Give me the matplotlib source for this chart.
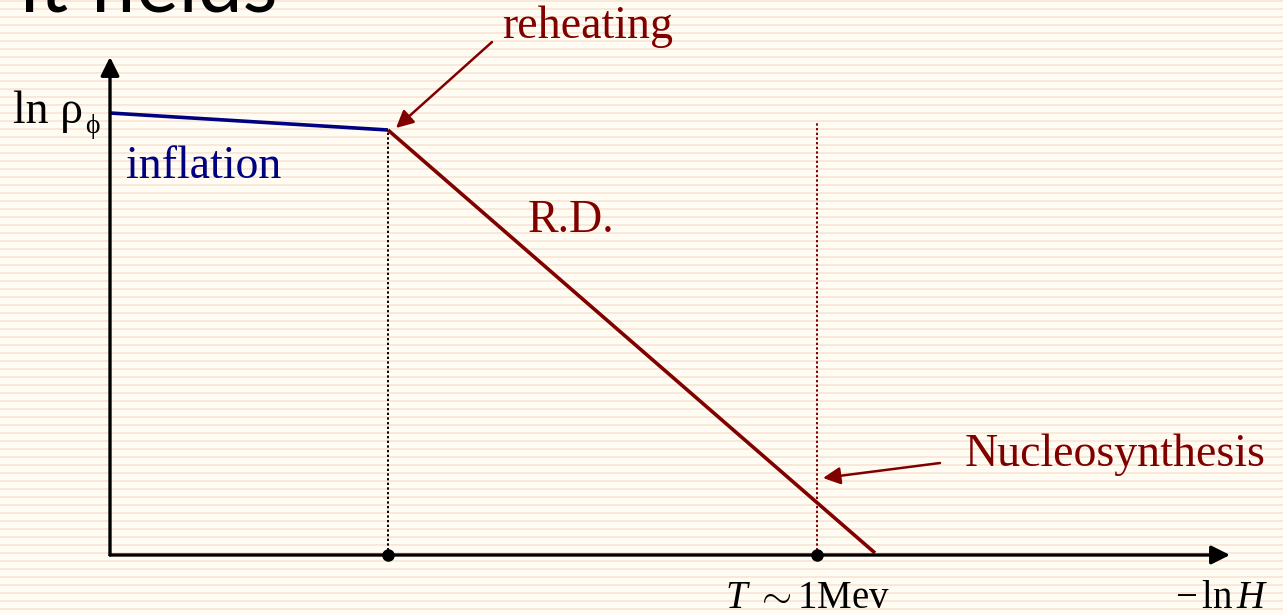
import numpy as np
import matplotlib.pyplot as plt
from matplotlib.colors import ListedColormap

plt.rcParams['mathtext.fontset'] = 'custom'
plt.rcParams['mathtext.rm'] = 'Liberation Serif'
plt.rcParams['mathtext.it'] = 'Liberation Serif:italic'

# schematic energy density vs -ln H
infl_x = [0.0, 2.78]
infl_y = [4.42, 4.25]
rd_x = [2.78, 7.65]
rd_y = [4.25, 0.02]
reheat_x = 2.78
nucleo_x = 7.07
nucleo_top = 4.33
x_axis_end = 11.2
y_axis_end = 4.98

MAROON = '#800000'
NAVY = '#000080'
serif = ['Liberation Serif', 'DejaVu Serif']
FS = 33

fig = plt.figure(figsize=(12.83, 6.15), dpi=100)

# lined slide background
bg = fig.add_axes([0, 0, 1, 1])
rows = np.zeros((615, 1))
rows[np.arange(615) % 8 < 2] = 1
bg.imshow(rows, aspect='auto', cmap=ListedColormap(['#fffdf3', '#f9e8da']),
          interpolation='nearest')
bg.axis('off')

ax = fig.add_axes([0, 0, 1, 1])
ax.set_xlim(-1.10, 11.73)
ax.set_ylim(-0.60, 5.55)
ax.axis('off')
ax.patch.set_alpha(0)

# axes with arrowheads
ax.annotate('', xy=(x_axis_end, 0), xytext=(0, 0),
            arrowprops=dict(arrowstyle='-|>', color='black', lw=2.4,
                            mutation_scale=28, shrinkA=0, shrinkB=0))
ax.annotate('', xy=(0, y_axis_end), xytext=(0, 0),
            arrowprops=dict(arrowstyle='-|>', color='black', lw=2.4,
                            mutation_scale=28, shrinkA=0, shrinkB=0))

# dotted markers for reheating and nucleosynthesis
ax.plot([reheat_x, reheat_x], [0, infl_y[1]], color='black', lw=1.4, ls=(0, (1.2, 1.2)))
ax.plot([nucleo_x, nucleo_x], [0, nucleo_top], color=MAROON, lw=1.4, ls=(0, (1.2, 1.2)))
ax.plot([reheat_x, nucleo_x], [0, 0], 'o', color='black', ms=8, zorder=5)

ax.plot(infl_x, infl_y, color=NAVY, lw=2.6, solid_capstyle='butt')
ax.plot(rd_x, rd_y, color=MAROON, lw=2.6, solid_capstyle='butt')

# labels
ax.text(-0.97, 4.32, 'ln ρ', fontsize=FS, family=serif, color='black')
ax.text(-0.25, 4.22, 'ϕ', fontsize=20, family=serif, color='black')
ax.text(0.16, 3.77, 'inflation', fontsize=FS, family=serif, color=NAVY)
ax.text(4.18, 3.23, 'R.D.', fontsize=FS, family=serif, color=MAROON)
ax.text(3.92, 5.17, 'reheating', fontsize=FS, family=serif, color=MAROON)
ax.text(8.55, 0.89, 'Nucleosynthesis', fontsize=FS, family=serif, color=MAROON)
ax.text(6.98, -0.53, r'$T\ \sim 1\mathrm{Mev}$', fontsize=28, ha='center', color='black')
ax.text(11.58, -0.53, r'$-\,\mathrm{ln}\,H$', fontsize=28, ha='right', color='black')

ax.annotate('', xy=(2.86, 4.27), xytext=(3.82, 5.13),
            arrowprops=dict(arrowstyle='-|>', color=MAROON, lw=1.8,
                            mutation_scale=26, shrinkA=0, shrinkB=0))
ax.annotate('', xy=(7.13, 0.77), xytext=(8.30, 0.92),
            arrowprops=dict(arrowstyle='-|>', color=MAROON, lw=1.8,
                            mutation_scale=26, shrinkA=0, shrinkB=0))

# slide title running off the top edge
fig.text(20 / 1283, 1 - 11 / 615, 'it fields', fontsize=58, family='Lato',
         color='black', va='baseline')

fig.savefig('out.png', dpi=100)
